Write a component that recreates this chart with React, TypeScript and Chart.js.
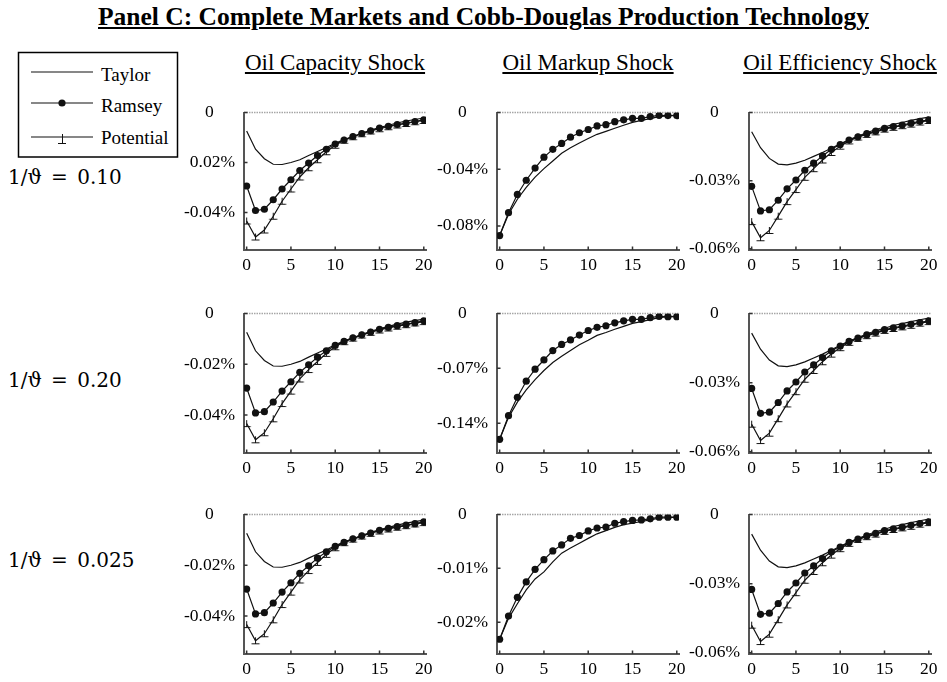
import React, { useEffect, useRef } from 'react';
import { Chart, registerables } from 'chart.js';

Chart.register(...registerables);

// Quarters after the shock
const quarters = [0, 1, 2, 3, 4, 5, 6, 7, 8, 9, 10, 11, 12, 13, 14, 15, 16, 17, 18, 19, 20];
const xTicks = [0, 5, 10, 15, 20];

// Oil capacity shock (percent deviation)
const capacityTaylor = [-0.0074, -0.0147, -0.0185, -0.0207, -0.0208, -0.02, -0.0189, -0.0172, -0.0156, -0.014, -0.0123, -0.0108, -0.0096, -0.0083, -0.007, -0.006, -0.0051, -0.0042, -0.0034, -0.0028, -0.0022];
const capacityRamsey = [-0.0294, -0.0392, -0.0387, -0.0349, -0.0306, -0.0269, -0.0232, -0.0202, -0.0172, -0.0147, -0.0126, -0.011, -0.0096, -0.0084, -0.0073, -0.0062, -0.0055, -0.0048, -0.0042, -0.0036, -0.0029];
const capacityPotential = [-0.0434, -0.0498, -0.047, -0.0415, -0.0355, -0.0306, -0.0258, -0.0221, -0.0189, -0.0157, -0.0131, -0.0111, -0.0097, -0.0085, -0.0074, -0.0065, -0.0057, -0.005, -0.0044, -0.0037, -0.0032];

// Oil markup shock, one pair of paths per elasticity
const markupTaylor10 = [-0.0868, -0.0718, -0.0612, -0.0528, -0.0456, -0.0396, -0.0342, -0.0288, -0.0249, -0.0215, -0.0184, -0.0154, -0.0133, -0.0111, -0.009, -0.007, -0.0056, -0.0043, -0.0029, -0.0023, -0.0018];
const markupRamsey10 = [-0.0868, -0.0707, -0.0578, -0.0478, -0.0392, -0.0315, -0.026, -0.0218, -0.0174, -0.0143, -0.012, -0.0095, -0.0086, -0.0065, -0.0052, -0.0041, -0.0041, -0.0029, -0.002, -0.0022, -0.0022];
const markupTaylor20 = [-0.1605, -0.1325, -0.1131, -0.0975, -0.0843, -0.0728, -0.0625, -0.0547, -0.0473, -0.0399, -0.0341, -0.0279, -0.0242, -0.0201, -0.0164, -0.0127, -0.0103, -0.0078, -0.0053, -0.0041, -0.0037];
const markupRamsey20 = [-0.1605, -0.1304, -0.1069, -0.0864, -0.0711, -0.0593, -0.0473, -0.0395, -0.0337, -0.0275, -0.0217, -0.0177, -0.0156, -0.0119, -0.0094, -0.0074, -0.0074, -0.0053, -0.0037, -0.0041, -0.0041];
const markupTaylor025 = [-0.02316, -0.01928, -0.01658, -0.014, -0.01197, -0.01066, -0.0088, -0.00718, -0.00623, -0.00533, -0.00443, -0.00359, -0.003, -0.0024, -0.0019, -0.0016, -0.0013, -0.001, -0.0007, -0.0006, -0.0005];
const markupRamsey025 = [-0.02316, -0.01885, -0.01538, -0.01251, -0.01018, -0.00838, -0.00677, -0.00564, -0.00443, -0.0039, -0.00305, -0.00251, -0.00233, -0.00162, -0.00133, -0.0011, -0.001, -0.0008, -0.0005, -0.0005, -0.0005];

// Oil efficiency shock
const efficiencyTaylor = [-0.0085, -0.0155, -0.0202, -0.0227, -0.023, -0.0223, -0.021, -0.0193, -0.0176, -0.0157, -0.0138, -0.012, -0.0104, -0.0089, -0.0075, -0.0064, -0.0052, -0.0044, -0.0035, -0.0027, -0.002];
const efficiencyRamsey = [-0.0325, -0.0433, -0.0428, -0.0386, -0.0336, -0.0297, -0.0254, -0.0223, -0.0191, -0.0162, -0.0141, -0.0121, -0.0107, -0.0093, -0.0082, -0.007, -0.0062, -0.0055, -0.0047, -0.0039, -0.0032];
const efficiencyPotential = [-0.048, -0.0551, -0.0519, -0.0456, -0.0392, -0.0339, -0.0285, -0.0247, -0.0209, -0.0176, -0.0148, -0.0125, -0.0108, -0.0096, -0.0085, -0.0073, -0.0065, -0.0058, -0.0051, -0.0042, -0.0035];

// Y tick values
const capacityTicks = [0, -0.02, -0.04];
const markupTicks10 = [0, -0.04, -0.08];
const markupTicks20 = [0, -0.07, -0.14];
const markupTicks025 = [0, -0.01, -0.02];
const efficiencyTicks = [0, -0.03, -0.06];

const panelTitle = 'Panel C: Complete Markets and Cobb-Douglas Production Technology';
const shockTitles = ['Oil Capacity Shock', 'Oil Markup Shock', 'Oil Efficiency Shock'];
const elasticityLabels = ['1/ϑ = 0.10', '1/ϑ = 0.20', '1/ϑ = 0.025'];
const seriesNames = ['Taylor', 'Ramsey', 'Potential'];

type PanelSpec = {
  taylor: number[];
  ramsey: number[];
  potential?: number[];
  ticks: number[];
  yMin: number;
};

const panelRows: PanelSpec[][] = [
  [
    { taylor: capacityTaylor, ramsey: capacityRamsey, potential: capacityPotential, ticks: capacityTicks, yMin: -0.055 },
    { taylor: markupTaylor10, ramsey: markupRamsey10, ticks: markupTicks10, yMin: -0.097 },
    { taylor: efficiencyTaylor, ramsey: efficiencyRamsey, potential: efficiencyPotential, ticks: efficiencyTicks, yMin: -0.0605 },
  ],
  [
    { taylor: capacityTaylor, ramsey: capacityRamsey, potential: capacityPotential, ticks: capacityTicks, yMin: -0.055 },
    { taylor: markupTaylor20, ramsey: markupRamsey20, ticks: markupTicks20, yMin: -0.178 },
    { taylor: efficiencyTaylor, ramsey: efficiencyRamsey, potential: efficiencyPotential, ticks: efficiencyTicks, yMin: -0.0605 },
  ],
  [
    { taylor: capacityTaylor, ramsey: capacityRamsey, potential: capacityPotential, ticks: capacityTicks, yMin: -0.055 },
    { taylor: markupTaylor025, ramsey: markupRamsey025, ticks: markupTicks025, yMin: -0.0259 },
    { taylor: efficiencyTaylor, ramsey: efficiencyRamsey, potential: efficiencyPotential, ticks: efficiencyTicks, yMin: -0.0605 },
  ],
];

// Layout of the plotting areas
const colLeft = [244, 497, 749];
const rowTop = [107, 308, 509];
const rowHeight = [143, 145, 145];
const plotWidth = 182;
const PAD_L = 72;
const PAD_R = 20;
const PAD_T = 14;
const PAD_B = 32;

const SERIF = "'Liberation Serif', 'Times New Roman', serif";
const INK = '#111';

function makeTackMarker(): HTMLCanvasElement {
  const c = document.createElement('canvas');
  c.width = 11;
  c.height = 11;
  const g = c.getContext('2d')!;
  g.strokeStyle = INK;
  g.lineWidth = 1;
  g.beginPath();
  g.moveTo(5.5, 2);
  g.lineTo(5.5, 8.5);
  g.moveTo(1.5, 8.5);
  g.lineTo(9.5, 8.5);
  g.stroke();
  return c;
}

// Zero reference line plus short inward tick marks on both axes
const axisDecor = {
  id: 'axisDecor',
  beforeDatasetsDraw(chart: any) {
    const { ctx, chartArea, scales } = chart;
    const y0 = scales.y.getPixelForValue(0);
    ctx.save();
    ctx.strokeStyle = '#a6a6a6';
    ctx.lineWidth = 1.5;
    ctx.setLineDash([1.5, 1]);
    ctx.beginPath();
    ctx.moveTo(chartArea.left, y0);
    ctx.lineTo(chartArea.right, y0);
    ctx.stroke();
    ctx.restore();
  },
  afterDraw(chart: any) {
    const { ctx, chartArea, scales } = chart;
    ctx.save();
    ctx.strokeStyle = '#333';
    ctx.lineWidth = 1.5;
    ctx.beginPath();
    scales.x.ticks.forEach((t: any) => {
      const px = scales.x.getPixelForValue(t.value);
      ctx.moveTo(px, chartArea.bottom);
      ctx.lineTo(px, chartArea.bottom - 3.5);
    });
    scales.y.ticks.forEach((t: any) => {
      const py = scales.y.getPixelForValue(t.value);
      ctx.moveTo(chartArea.left, py);
      ctx.lineTo(chartArea.left + 3.5, py);
    });
    ctx.stroke();
    ctx.restore();
  },
};

function Panel({ spec, left, top, height }: { spec: PanelSpec; left: number; top: number; height: number }) {
  const ref = useRef<HTMLCanvasElement>(null);
  const cw = plotWidth + PAD_L + PAD_R;
  const ch = height + PAD_T + PAD_B;

  useEffect(() => {
    if (!ref.current) return;
    const toPoints = (vals: number[]) => quarters.map((q, i) => ({ x: q, y: vals[i] }));
    const datasets: any[] = [
      {
        label: seriesNames[0],
        data: toPoints(spec.taylor),
        borderColor: INK,
        borderWidth: 1.2,
        pointRadius: 0,
        tension: 0,
        order: 2,
      },
      {
        label: seriesNames[1],
        data: toPoints(spec.ramsey),
        borderColor: INK,
        borderWidth: 1.2,
        pointRadius: 3.6,
        pointBackgroundColor: INK,
        pointBorderWidth: 0,
        tension: 0,
        order: 0,
      },
    ];
    if (spec.potential) {
      datasets.push({
        label: seriesNames[2],
        data: toPoints(spec.potential),
        borderColor: INK,
        borderWidth: 1.2,
        pointRadius: 5,
        pointStyle: makeTackMarker(),
        tension: 0,
        order: 1,
      });
    }

    const chart = new Chart(ref.current, {
      type: 'line',
      data: { datasets },
      options: {
        responsive: false,
        animation: false,
        events: [],
        layout: { padding: { left: 0, right: PAD_R, top: PAD_T, bottom: 0 } },
        plugins: { legend: { display: false }, tooltip: { enabled: false } },
        scales: {
          x: {
            type: 'linear',
            min: -0.3,
            max: 20.25,
            afterBuildTicks: (s: any) => {
              s.ticks = xTicks.map((v) => ({ value: v }));
            },
            afterFit: (s: any) => {
              s.height = PAD_B;
            },
            grid: { display: false, drawTicks: false },
            border: { display: true, color: '#555', width: 2 },
            ticks: {
              color: '#000',
              padding: 5,
              maxRotation: 0,
              autoSkip: false,
              font: { family: SERIF, size: 17.5 },
              callback: (v: any) => String(v),
            },
          },
          y: {
            type: 'linear',
            min: spec.yMin,
            max: 0,
            afterBuildTicks: (s: any) => {
              s.ticks = spec.ticks.map((v) => ({ value: v }));
            },
            afterFit: (s: any) => {
              s.width = PAD_L;
            },
            grid: { display: false, drawTicks: false },
            border: { display: true, color: '#555', width: 2 },
            ticks: {
              color: '#000',
              padding: 9,
              crossAlign: 'center',
              font: { family: SERIF, size: 17.5 },
              callback: (v: any) => (v === 0 ? '0' : Number(v).toFixed(2) + '%'),
            },
          },
        },
      } as any,
      plugins: [axisDecor],
    });
    return () => chart.destroy();
  }, [spec]);

  return (
    <canvas
      ref={ref}
      width={cw}
      height={ch}
      style={{ position: 'absolute', left: left - PAD_L, top: top - PAD_T, width: cw, height: ch }}
    />
  );
}

function Legend() {
  return (
    <div style={{ position: 'absolute', left: 17, top: 51, width: 172.5, height: 113, background: '#fff', zIndex: 5 }}>
      <svg width={173} height={113} style={{ display: 'block' }}>
        <rect x={1.5} y={1.5} width={159} height={104.5} fill="#fff" stroke="#000" strokeWidth={1.5} />
        <line x1={14} y1={21} x2={76} y2={21} stroke={INK} strokeWidth={1.1} />
        <line x1={14} y1={52} x2={76} y2={52} stroke={INK} strokeWidth={1.1} />
        <circle cx={45} cy={52} r={3.6} fill={INK} />
        <line x1={14} y1={86} x2={76} y2={86} stroke={INK} strokeWidth={1.1} />
        <path d="M45.5 83 L45.5 92.5 M41 92.5 L49 92.5" stroke={INK} strokeWidth={1} fill="none" />
        <text x={84} y={29.5} fontFamily={SERIF} fontSize={19} fill="#000">{seriesNames[0]}</text>
        <text x={84} y={60.5} fontFamily={SERIF} fontSize={19} fill="#000">{seriesNames[1]}</text>
        <text x={84} y={93} fontFamily={SERIF} fontSize={19} fill="#000">{seriesNames[2]}</text>
      </svg>
    </div>
  );
}

export default function App() {
  const rowLabelCenter = [177, 380, 560];
  return (
    <div style={{ position: 'fixed', left: 0, top: 0, width: 947, height: 682, background: '#fff', overflow: 'hidden' }}>
      <div
        style={{
          position: 'absolute',
          left: 10,
          width: 947,
          top: 3,
          textAlign: 'center',
          fontFamily: SERIF,
          fontWeight: 'bold',
          fontSize: 25.5,
          lineHeight: '28px',
          textDecoration: 'underline',
          color: '#000',
          whiteSpace: 'nowrap',
        }}
      >
        {panelTitle}
      </div>

      {shockTitles.map((t, i) => (
        <div
          key={t}
          style={{
            position: 'absolute',
            left: colLeft[i] + plotWidth / 2 - 150,
            width: 300,
            top: 51,
            textAlign: 'center',
            fontFamily: SERIF,
            fontSize: 23,
            lineHeight: '23px',
            textDecoration: 'underline',
            color: '#000',
            whiteSpace: 'nowrap',
          }}
        >
          {t}
        </div>
      ))}

      {elasticityLabels.map((t, i) => (
        <div
          key={t}
          style={{
            position: 'absolute',
            left: 8,
            top: rowLabelCenter[i] - 14,
            height: 28,
            lineHeight: '28px',
            fontFamily: "'DejaVu Serif', serif",
            fontSize: 20,
            wordSpacing: 3,
            color: '#000',
            whiteSpace: 'pre',
          }}
        >
          {t}
        </div>
      ))}

      {panelRows.map((row, r) =>
        row.map((spec, c) => (
          <Panel key={`${r}-${c}`} spec={spec} left={colLeft[c]} top={rowTop[r]} height={rowHeight[r]} />
        ))
      )}

      <Legend />
    </div>
  );
}
